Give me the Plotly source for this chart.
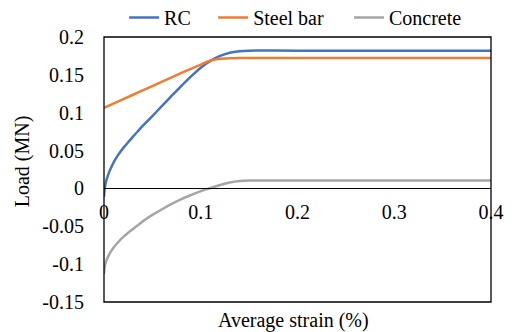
import plotly.graph_objects as go

# Average strain (%) and load (MN) for each component
rc_strain = [0, 0.0005, 0.001, 0.002, 0.003, 0.005, 0.0075, 0.01, 0.0125, 0.015, 0.0175,
             0.02, 0.025, 0.03, 0.035, 0.04, 0.05, 0.06, 0.07, 0.08, 0.09, 0.1, 0.11,
             0.12, 0.13, 0.14, 0.15, 0.2, 0.3, 0.4]
rc_load = [-0.011, -0.002, 0.002, 0.0085, 0.013, 0.0205, 0.028, 0.0345, 0.040, 0.045,
           0.0495, 0.0535, 0.061, 0.0685, 0.0755, 0.0825, 0.0955, 0.109, 0.1225, 0.1355,
           0.148, 0.1595, 0.1685, 0.175, 0.1793, 0.1812, 0.182, 0.182, 0.182, 0.182]

steel_strain = [0, 0.02, 0.04, 0.06, 0.08, 0.1, 0.108, 0.115, 0.12, 0.13, 0.14, 0.15,
                0.2, 0.3, 0.4]
steel_load = [0.1065, 0.118, 0.1295, 0.141, 0.1525, 0.1635, 0.168, 0.1703, 0.1712, 0.1718,
              0.1722, 0.1723, 0.1723, 0.1723, 0.1723]

concrete_strain = [0, 0.0005, 0.001, 0.002, 0.003, 0.005, 0.0075, 0.01, 0.0125, 0.015,
                   0.0175, 0.02, 0.025, 0.03, 0.035, 0.04, 0.05, 0.06, 0.07, 0.08, 0.09,
                   0.1, 0.11, 0.12, 0.13, 0.14, 0.15, 0.2, 0.3, 0.4]
concrete_load = [-0.113, -0.106, -0.102, -0.097, -0.0935, -0.088, -0.0825, -0.078, -0.074,
                 -0.0705, -0.067, -0.064, -0.0585, -0.0535, -0.0485, -0.0435, -0.035,
                 -0.0275, -0.0205, -0.0142, -0.0087, -0.0035, 0.0005, 0.0045, 0.0078,
                 0.0098, 0.0105, 0.0105, 0.0105, 0.0105]

series = [("RC", rc_strain, rc_load, "#4472C4"),
          ("Steel bar", steel_strain, steel_load, "#ED7D31"),
          ("Concrete", concrete_strain, concrete_load, "#A5A5A5")]

x_ticks = [0, 0.1, 0.2, 0.3, 0.4]
x_tick_text = ["0", "0.1", "0.2", "0.3", "0.4"]
y_ticks = [-0.15, -0.1, -0.05, 0, 0.05, 0.1, 0.15, 0.2]
y_tick_text = ["-0.15", "-0.1", "-0.05", "0", "0.05", "0.1", "0.15", "0.2"]

FONT = "Liberation Serif, DejaVu Serif, serif"
x_range = [0, 0.4]
y_range = [-0.15, 0.2]

# each series gets its own legend box so the entries can be spaced freely
legend_ids = ["legend", "legend2", "legend3"]
legend_x = [0.052, 0.282, 0.633]

fig = go.Figure()
for (name, xs, ys, color), lid in zip(series, legend_ids):
    fig.add_trace(go.Scatter(x=xs, y=ys, name=name, mode="lines", legend=lid,
                             line=dict(color=color, width=2.5, shape="spline", smoothing=0.5)))

# x axis sits on the zero load line
zero_pos = (0 - y_range[0]) / (y_range[1] - y_range[0])

legend_style = dict(orientation="h", xanchor="left", y=1.0, yanchor="bottom",
                    font=dict(family=FONT, size=20), bgcolor="rgba(0,0,0,0)",
                    itemwidth=30, borderwidth=0)

fig.update_layout(
    width=514, height=332,
    margin=dict(l=104, r=23, t=37, b=30, autoexpand=False),
    paper_bgcolor="white", plot_bgcolor="white",
    font=dict(family=FONT, size=20, color="black"),
    showlegend=True,
    legend=dict(x=legend_x[0], **legend_style),
    legend2=dict(x=legend_x[1], **legend_style),
    legend3=dict(x=legend_x[2], **legend_style),
    xaxis=dict(range=x_range, tickvals=x_ticks, ticktext=x_tick_text,
               showgrid=False, zeroline=False, showline=True, linecolor="black", linewidth=1,
               anchor="free", position=zero_pos, ticks="", ticklabelstandoff=6,
               tickfont=dict(family=FONT, size=20)),
    yaxis=dict(range=y_range, tickvals=y_ticks, ticktext=y_tick_text,
               showgrid=False, zeroline=False, showline=False, ticks="",
               ticklabelstandoff=19, tickfont=dict(family=FONT, size=20)),
    shapes=[dict(type="rect", xref="paper", yref="paper", x0=0, y0=0, x1=1, y1=1,
                 line=dict(color="black", width=1.3), layer="above")],
    annotations=[
        dict(text="Average strain (%)", xref="paper", yref="paper", x=0.49, y=-0.02,
             xanchor="center", yanchor="top", showarrow=False, font=dict(family=FONT, size=20)),
        dict(text="Load (MN)", xref="paper", yref="paper", x=-0.21, y=0.53, textangle=-90,
             xanchor="center", yanchor="middle", showarrow=False, font=dict(family=FONT, size=20)),
    ],
)

fig.write_html("out.html")
